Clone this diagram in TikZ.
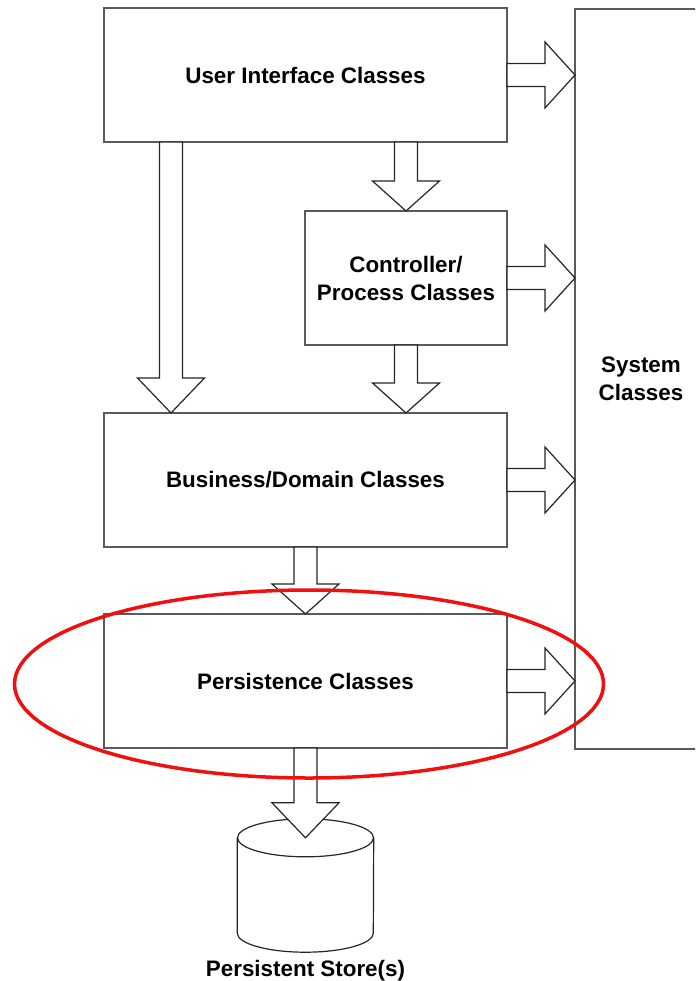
\documentclass[tikz,border=0pt]{standalone}
\usepackage{fontspec}
\setmainfont{Liberation Sans}
\usetikzlibrary{calc}
\definecolor{boxgray}{HTML}{5A5A5A}
\definecolor{hlred}{RGB}{240,16,16}
% down block arrow: #1 x-reference, #2 start point, #3 tip point, #4 head length
\newcommand\arrdown[4]{%
  \draw[barrow] let \p1=(#1 |- #2), \p2=(#1 |- #3) in
    (\x1-11.5,\y1) -- (\x1-11.5,\y2+#4) -- (\x1-33.5,\y2+#4) -- (\x1,\y2)
    -- (\x1+33.5,\y2+#4) -- (\x1+11.5,\y2+#4) -- (\x1+11.5,\y1) -- cycle;}
% right block arrow: #1 source node, #2 target node
\newcommand\arrright[2]{%
  \draw[barrow] let \p1=(#1.east), \p2=(#2.west |- #1.east) in
    (\x1,\y1+11.5) -- (\x2-30,\y1+11.5) -- (\x2-30,\y1+33) -- (\x2,\y1)
    -- (\x2-30,\y1-33) -- (\x2-30,\y1-11.5) -- (\x1,\y1-11.5) -- cycle;}
\begin{document}
\begin{tikzpicture}[x=1pt,y=1pt,
  box/.style={draw=boxgray, line width=1.8pt, fill=white, inner sep=0pt, outer sep=0pt,
    font=\bfseries\fontsize{22.4}{28}\selectfont, align=center},
  barrow/.style={draw=black!85, line width=1.2pt, fill=white, line join=miter},
  cyl/.style={draw=black!85, line width=1.2pt, fill=white},
  lbl/.style={font=\bfseries\fontsize{22.4}{28}\selectfont, inner sep=0pt}]
\clip (0,0) rectangle (695,-981);
\fill[white] (0,0) rectangle (695,-981);
\node[box, minimum width=403, minimum height=134] (ui) at (305.5,-75) {User Interface Classes};
\node[box, minimum width=202, minimum height=134] (ctrl) at (406,-278) {Controller/\\Process Classes};
\node[box, minimum width=403, minimum height=134] (bus) at (305.5,-480) {Business/Domain Classes};
\node[box, minimum width=403, minimum height=134] (pers) at (305.5,-681) {Persistence Classes};
\node[box, minimum width=132, minimum height=740] (sys) at (641,-379) {System\\Classes};
% persistent store cylinder
\node[minimum width=136, minimum height=133, inner sep=0pt] (store) at (305.5,-885.5) {};
\coordinate (storetop) at ($(store.north)+(0,-19)$);
\draw[cyl] ($(store.north west)+(0,-19)$) -- ($(store.south west)+(0,19)$)
  arc[start angle=180, end angle=360, x radius=68, y radius=19]
  -- ($(store.north east)+(0,-19)$);
\draw[cyl] (storetop) ellipse[x radius=68, y radius=19];
\node[lbl, anchor=base] (storelabel) at (305.5,-976.5) {Persistent Store(s)};
% arrows
\coordinate (lx) at (171,0);
\arrdown{lx}{ui.south}{bus.north}{35}
\arrdown{ctrl}{ui.south}{ctrl.north}{30}
\arrdown{ctrl}{ctrl.south}{bus.north}{30}
\arrdown{bus}{bus.south}{pers.north}{30}
\arrdown{pers}{pers.south}{storetop}{35}
\arrright{ui}{sys}
\arrright{ctrl}{sys}
\arrright{bus}{sys}
\arrright{pers}{sys}
% highlight
\draw[hlred, line width=3.5pt] (309,-684) ellipse[x radius=294.5, y radius=94];
\end{tikzpicture}
\end{document}
